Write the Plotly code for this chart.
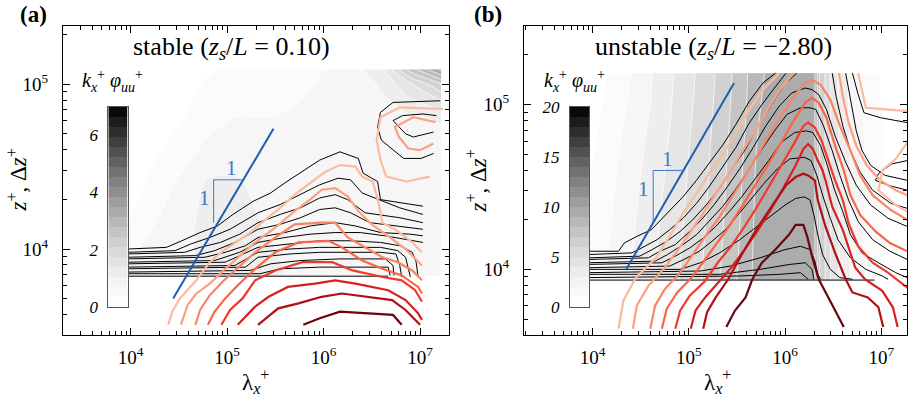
import numpy as np
import plotly.graph_objects as go

FONT = "Liberation Serif"

# ---------------- shared styles ----------------
red_colors = ['#fcbba1', '#fca083', '#fb8464', '#f96546', '#ee3a2c', '#d42121', '#ad1016', '#6d0510']
gray_scale = [[0.0, '#ffffff'], [0.1, '#f7f7f7'], [0.2, '#e8e8e8'], [0.3, '#d5d5d5'],
              [0.4, '#bebebe'], [0.5, '#a5a5a5'], [0.6, '#888888'], [0.7, '#6a6a6a'],
              [0.8, '#484848'], [0.9, '#252525'], [1.0, '#000000']]

# ---------------- panel (a): stable ----------------
a_bg_lx = [3.97, 4.2, 4.5, 4.8, 5.1, 5.4, 5.7, 6.0, 6.3, 6.6, 6.9, 7.22]
a_bg_ly = [3.836, 4.0, 4.2, 4.4, 4.6, 4.8, 5.0, 5.09]
a_bg_z = [
    [0.75, 0.8, 0.9, 1.1, 1.2, 1.15, 1.0, 0.9, 0.8, 0.8, 0.75, 0.7],
    [0.6, 0.8, 0.95, 1.15, 1.2, 1.1, 0.95, 0.85, 0.8, 0.8, 0.75, 0.7],
    [0.3, 0.6, 0.9, 1.15, 1.2, 1.0, 0.9, 0.8, 0.8, 0.85, 0.8, 0.75],
    [0.2, 0.4, 0.75, 1.1, 1.1, 0.9, 0.85, 0.8, 0.85, 0.9, 0.9, 0.85],
    [0.15, 0.25, 0.5, 0.8, 0.85, 0.8, 0.8, 0.8, 0.85, 0.9, 0.9, 0.9],
    [0.1, 0.15, 0.3, 0.55, 0.7, 0.7, 0.75, 0.8, 0.85, 0.9, 1.0, 1.1],
    [0.1, 0.1, 0.2, 0.4, 0.5, 0.55, 0.6, 0.75, 0.85, 1.1, 1.7, 2.4],
    [0.1, 0.1, 0.15, 0.3, 0.45, 0.5, 0.55, 0.7, 0.9, 1.3, 2.6, 3.6],
]
a_cmax = 7.0

a_black_lx = [
    [3.97, 4.37, 4.53, 4.72, 4.90, 5.06, 5.27, 5.45, 5.62, 5.78, 5.96, 6.17, 6.36, 6.41, 6.56, 6.59, 7.03],
    [3.97, 4.46, 4.62, 4.82, 5.03, 5.32, 5.55, 5.76, 5.96, 6.15, 6.28, 6.40, 6.57, 6.79, 7.03],
    [3.97, 4.56, 4.72, 4.93, 5.13, 5.32, 5.55, 5.76, 5.96, 6.12, 6.25, 6.43, 6.79, 7.03],
    [3.97, 4.67, 4.87, 5.08, 5.32, 5.55, 5.76, 5.96, 6.12, 6.28, 6.48, 6.79, 7.03],
    [3.97, 4.77, 4.98, 5.19, 5.32, 5.60, 5.86, 6.12, 6.33, 6.59, 6.90, 7.03],
    [3.97, 4.87, 5.13, 5.32, 5.60, 5.86, 6.12, 6.38, 6.64, 6.85, 7.03],
    [3.97, 4.98, 5.32, 5.65, 5.96, 6.28, 6.59, 6.79, 6.92, 6.96, 6.98],
    [3.97, 5.08, 5.32, 5.65, 5.96, 6.28, 6.59, 6.77, 6.85, 6.90],
    [3.97, 5.19, 5.32, 5.65, 5.96, 6.28, 6.59, 6.75, 6.79, 6.81],
    [3.97, 5.24, 5.45, 5.76, 6.17, 6.64, 6.72, 6.73],
    [3.97, 5.34, 5.55, 5.96, 6.38, 6.67, 6.69],
    [3.97, 6.67],
    [7.21, 6.72, 6.59, 6.56, 6.60, 6.72, 6.83, 7.01, 7.14],
    [7.17, 7.03, 6.82, 6.72, 6.85, 6.93, 7.14],
]
a_black_ly = [
    [4.00, 4.01, 4.05, 4.10, 4.14, 4.21, 4.29, 4.34, 4.41, 4.47, 4.54, 4.59, 4.55, 4.46, 4.41, 4.30, 4.26],
    [3.98, 3.99, 4.03, 4.07, 4.12, 4.22, 4.27, 4.33, 4.39, 4.43, 4.42, 4.34, 4.30, 4.25, 4.21],
    [3.97, 3.98, 4.01, 4.04, 4.09, 4.16, 4.21, 4.25, 4.31, 4.33, 4.30, 4.22, 4.19, 4.16],
    [3.95, 3.96, 3.99, 4.04, 4.12, 4.15, 4.19, 4.24, 4.25, 4.22, 4.16, 4.14, 4.12],
    [3.94, 3.95, 3.98, 4.02, 4.07, 4.10, 4.14, 4.16, 4.14, 4.10, 4.09, 4.08],
    [3.92, 3.93, 3.98, 4.04, 4.07, 4.09, 4.10, 4.10, 4.08, 4.06, 4.04],
    [3.91, 3.92, 4.01, 4.03, 4.05, 4.05, 4.04, 4.02, 3.98, 3.92, 3.83],
    [3.89, 3.90, 3.98, 4.00, 4.01, 4.01, 4.01, 3.99, 3.95, 3.83],
    [3.88, 3.89, 3.95, 3.97, 3.98, 3.98, 3.98, 3.97, 3.90, 3.83],
    [3.86, 3.87, 3.91, 3.93, 3.94, 3.94, 3.90, 3.84],
    [3.85, 3.85, 3.88, 3.89, 3.89, 3.89, 3.84],
    [3.835, 3.835],
    [4.90, 4.89, 4.83, 4.74, 4.66, 4.60, 4.55, 4.55, 4.58],
    [4.81, 4.82, 4.81, 4.78, 4.70, 4.68, 4.71],
]

a_red_lx = [
    [4.39, 4.43, 4.51, 4.68, 4.82, 4.96, 5.09, 5.24, 5.36, 5.55, 5.72, 5.86, 6.02, 6.17, 6.33, 6.40, 6.51, 6.57, 6.61, 6.74, 6.90, 7.02],
    [4.52, 4.59, 4.68, 4.82, 4.98, 5.13, 5.29, 5.50, 5.70, 5.86, 5.98, 6.12, 6.25, 6.36, 6.50, 6.69, 6.85, 7.02],
    [4.67, 4.72, 4.82, 4.95, 5.08, 5.19, 5.29, 5.50, 5.70, 5.98, 6.12, 6.25, 6.43, 6.61, 6.77, 6.92, 7.02],
    [4.80, 4.87, 4.98, 5.11, 5.29, 5.50, 5.74, 6.05, 6.19, 6.40, 6.61, 6.81, 6.98, 7.02],
    [4.94, 5.03, 5.16, 5.29, 5.50, 5.78, 6.09, 6.30, 6.61, 6.81, 6.95, 7.02],
    [5.11, 5.29, 5.43, 5.63, 5.91, 6.12, 6.33, 6.67, 6.85, 6.98, 7.02],
    [5.32, 5.53, 5.74, 5.98, 6.19, 6.46, 6.71, 6.85, 6.95, 7.00],
    [5.79, 5.96, 6.17, 6.45, 6.72, 6.81],
    [7.24, 6.79, 6.59, 6.55, 6.59, 6.65, 6.86, 7.10],
    [7.16, 6.93, 6.74, 6.78, 6.88, 7.00, 7.14],
]
a_red_ly = [
    [3.54, 3.62, 3.70, 3.81, 3.92, 3.99, 4.04, 4.10, 4.16, 4.25, 4.34, 4.40, 4.47, 4.51, 4.50, 4.44, 4.41, 4.28, 4.16, 4.12, 4.05, 3.98],
    [3.54, 3.66, 3.73, 3.79, 3.88, 3.96, 4.04, 4.13, 4.23, 4.30, 4.36, 4.37, 4.32, 4.23, 4.15, 4.07, 4.00, 3.90],
    [3.54, 3.63, 3.72, 3.80, 3.87, 3.93, 3.98, 4.07, 4.15, 4.16, 4.16, 4.07, 4.01, 3.95, 3.92, 3.87, 3.81],
    [3.54, 3.62, 3.70, 3.78, 3.88, 3.98, 4.04, 4.05, 4.01, 3.93, 3.88, 3.84, 3.77, 3.73],
    [3.54, 3.63, 3.70, 3.81, 3.87, 3.92, 3.92, 3.87, 3.83, 3.81, 3.75, 3.68],
    [3.54, 3.65, 3.71, 3.77, 3.79, 3.81, 3.79, 3.75, 3.69, 3.61, 3.57],
    [3.54, 3.64, 3.67, 3.71, 3.73, 3.71, 3.69, 3.63, 3.57, 3.54],
    [3.54, 3.58, 3.62, 3.61, 3.60, 3.54],
    [4.85, 4.86, 4.80, 4.66, 4.54, 4.44, 4.41, 4.44],
    [4.77, 4.80, 4.74, 4.68, 4.61, 4.60, 4.64],
]
a_red_col = red_colors + [red_colors[0], red_colors[1]]

a_slope_lx = [4.44, 5.48]
a_slope_ly = [3.70, 4.73]
a_tri_lx = [4.86, 4.86, 5.16]
a_tri_ly = [4.16, 4.42, 4.42]
a_one_pos = [(5.04, 4.49), (4.76, 4.31)]

# ---------------- panel (b): unstable ----------------
b_bg_lx = [3.96, 4.2, 4.4, 4.6, 4.8, 5.0, 5.2, 5.4, 5.6, 5.7, 6.0, 6.3, 6.36, 6.5, 6.7, 6.9, 7.08]
b_bg_ly = [3.935, 4.3, 4.7, 5.0, 5.19]
b_bg_z = [
    [1.5, 2.2, 3.0, 3.8, 4.6, 5.4, 6.3, 7.4, 8.6, 9.3, 9.5, 9.4, 7.0, 4.5, 2.8, 1.6, 0.8],
    [1.2, 2.0, 2.8, 3.6, 4.4, 5.2, 6.1, 7.2, 8.4, 9.2, 9.5, 9.4, 7.0, 4.5, 2.8, 1.6, 0.8],
    [0.8, 1.7, 2.5, 3.3, 4.1, 5.0, 5.9, 7.0, 8.2, 9.0, 9.5, 9.4, 7.0, 4.5, 2.8, 1.6, 0.8],
    [0.6, 1.3, 2.2, 3.0, 3.9, 4.8, 5.7, 6.8, 8.0, 8.9, 9.5, 9.4, 7.0, 4.5, 2.6, 1.4, 0.7],
    [0.5, 1.1, 2.0, 2.9, 3.8, 4.7, 5.6, 6.7, 7.9, 8.8, 9.5, 9.4, 7.0, 4.4, 2.5, 1.3, 0.6],
]
b_cmax = 20.0

b_black_lx = [
    [3.96, 4.27, 4.33, 4.46, 4.61, 4.77, 4.94, 5.08, 5.21, 5.36, 5.49, 5.63, 5.77, 5.90],
    [6.70, 6.76, 6.82, 6.99, 7.27],
    [3.96, 4.41, 4.51, 4.67, 4.80, 4.94, 5.08, 5.21, 5.35, 5.49, 5.62, 5.76, 5.89, 6.01],
    [6.63, 6.68, 6.74, 6.80, 6.89, 7.04, 7.27],
    [3.96, 4.49, 4.62, 4.77, 4.91, 5.04, 5.18, 5.32, 5.45, 5.59, 5.72, 5.86, 5.99, 6.12],
    [6.49, 6.53, 6.60, 6.68, 6.78, 6.91, 7.10, 7.27],
    [3.96, 4.58, 4.70, 4.86, 4.99, 5.13, 5.26, 5.40, 5.53, 5.67, 5.80, 5.94, 6.07, 6.21, 6.28, 6.35, 6.43, 6.52, 6.63, 6.74, 6.89, 7.07, 7.27],
    [3.96, 4.65, 4.78, 4.94, 5.08, 5.21, 5.35, 5.48, 5.62, 5.75, 5.89, 6.02, 6.16, 6.26, 6.32, 6.40, 6.49, 6.57, 6.66, 6.76, 6.91, 7.09, 7.27],
    [3.96, 4.72, 4.86, 5.01, 5.15, 5.28, 5.42, 5.55, 5.69, 5.83, 5.96, 6.10, 6.22, 6.29, 6.37, 6.44, 6.51, 6.60, 6.68, 6.80, 6.97, 7.15, 7.27],
    [3.96, 4.80, 4.95, 5.11, 5.24, 5.38, 5.51, 5.65, 5.78, 5.92, 6.05, 6.20, 6.27, 6.33, 6.39, 6.47, 6.55, 6.68, 6.84, 7.01, 7.07],
    [3.96, 4.91, 5.12, 5.32, 5.53, 5.71, 5.87, 6.00, 6.11, 6.20, 6.26, 6.30, 6.34, 6.39, 6.47, 6.57, 6.70],
    [3.96, 5.12, 5.43, 5.74, 6.00, 6.16, 6.26, 6.31, 6.34, 6.37],
    [3.96, 5.32, 5.74, 6.05, 6.21, 6.28, 6.30],
    [3.96, 5.53, 5.95, 6.16, 6.24],
    [3.96, 6.93],
    [7.27, 7.11, 6.97, 6.94, 7.07, 7.27],
]
b_black_ly = [
    [4.11, 4.11, 4.16, 4.20, 4.24, 4.34, 4.44, 4.54, 4.64, 4.76, 4.88, 5.02, 5.13, 5.19],
    [5.19, 5.06, 4.95, 4.92, 4.89],
    [4.09, 4.10, 4.13, 4.18, 4.24, 4.31, 4.40, 4.50, 4.62, 4.74, 4.88, 5.00, 5.10, 5.19],
    [5.19, 5.03, 4.84, 4.72, 4.63, 4.57, 4.54],
    [4.07, 4.08, 4.12, 4.17, 4.23, 4.30, 4.39, 4.49, 4.61, 4.73, 4.87, 5.00, 5.12, 5.19],
    [5.19, 5.05, 4.87, 4.72, 4.59, 4.48, 4.40, 4.37],
    [4.06, 4.07, 4.11, 4.15, 4.22, 4.30, 4.39, 4.50, 4.61, 4.74, 4.87, 4.99, 5.07, 5.10, 5.09, 5.06, 4.97, 4.81, 4.65, 4.51, 4.39, 4.31, 4.26],
    [4.04, 4.05, 4.09, 4.15, 4.21, 4.29, 4.38, 4.48, 4.60, 4.72, 4.84, 4.94, 4.98, 4.98, 4.97, 4.87, 4.72, 4.57, 4.42, 4.29, 4.18, 4.11, 4.06],
    [4.03, 4.04, 4.08, 4.13, 4.19, 4.26, 4.35, 4.44, 4.55, 4.66, 4.77, 4.83, 4.84, 4.83, 4.75, 4.63, 4.49, 4.35, 4.21, 4.10, 4.04, 3.98, 3.95],
    [4.01, 4.02, 4.06, 4.11, 4.17, 4.24, 4.33, 4.43, 4.52, 4.61, 4.67, 4.68, 4.66, 4.57, 4.45, 4.31, 4.18, 4.07, 4.00, 3.96, 3.94],
    [4.00, 4.00, 4.04, 4.10, 4.18, 4.26, 4.33, 4.39, 4.43, 4.44, 4.42, 4.33, 4.21, 4.09, 4.00, 3.95, 3.94],
    [3.98, 3.99, 4.02, 4.07, 4.12, 4.14, 4.12, 4.05, 3.97, 3.94],
    [3.97, 3.97, 4.00, 4.03, 4.04, 4.00, 3.94],
    [3.95, 3.96, 3.97, 3.98, 3.94],
    [3.935, 3.935],
    [4.66, 4.64, 4.58, 4.54, 4.51, 4.48],
]

b_red_lx = [
    [4.27, 4.32, 4.45, 4.66, 4.80, 4.94, 5.08, 5.21, 5.36, 5.49, 5.63, 5.77, 5.91, 5.94],
    [6.76, 6.84, 7.05, 7.27],
    [4.42, 4.46, 4.58, 4.75, 4.89, 5.01, 5.15, 5.28, 5.42, 5.55, 5.69, 5.83, 5.96, 6.09],
    [6.56, 6.60, 6.66, 6.74, 6.85, 6.99, 7.15, 7.27],
    [4.60, 4.65, 4.75, 4.91, 5.04, 5.17, 5.31, 5.44, 5.58, 5.71, 5.85, 5.98, 6.12, 6.21, 6.28, 6.37, 6.47, 6.57, 6.68, 6.78, 6.91, 7.10, 7.27],
    [4.72, 4.77, 4.88, 5.03, 5.17, 5.29, 5.43, 5.56, 5.70, 5.84, 5.97, 6.11, 6.21, 6.28, 6.35, 6.43, 6.52, 6.61, 6.68, 6.78, 6.94, 7.09, 7.27],
    [4.86, 4.91, 5.01, 5.17, 5.30, 5.44, 5.58, 5.71, 5.85, 5.98, 6.11, 6.19, 6.24, 6.31, 6.38, 6.45, 6.52, 6.60, 6.66, 6.76, 6.91, 7.07, 7.27],
    [5.02, 5.07, 5.17, 5.31, 5.44, 5.58, 5.71, 5.85, 5.98, 6.11, 6.19, 6.24, 6.29, 6.34, 6.39, 6.42, 6.49, 6.60, 6.66, 6.73, 6.83, 7.01, 7.12, 7.17],
    [5.15, 5.19, 5.28, 5.41, 5.54, 5.70, 5.87, 6.01, 6.11, 6.19, 6.24, 6.31, 6.34, 6.42, 6.52, 6.63, 6.70, 6.86, 6.97, 7.02],
    [5.39, 5.48, 5.59, 5.66, 5.76, 5.90, 6.04, 6.11, 6.19, 6.23, 6.28, 6.35, 6.45, 6.52, 6.61],
    [7.27, 7.15, 7.01, 6.97, 7.15, 7.27],
]
b_red_ly = [
    [3.64, 3.81, 3.95, 4.07, 4.20, 4.34, 4.46, 4.58, 4.70, 4.83, 4.97, 5.09, 5.17, 5.19],
    [5.19, 4.98, 4.97, 4.96],
    [3.64, 3.78, 3.90, 4.01, 4.12, 4.22, 4.34, 4.46, 4.58, 4.71, 4.84, 4.98, 5.10, 5.19],
    [5.19, 5.05, 4.89, 4.75, 4.63, 4.54, 4.48, 4.45],
    [3.64, 3.78, 3.88, 3.98, 4.09, 4.20, 4.31, 4.43, 4.56, 4.69, 4.83, 4.95, 5.07, 5.13, 5.15, 5.12, 5.03, 4.87, 4.72, 4.57, 4.45, 4.36, 4.30],
    [3.64, 3.76, 3.86, 3.95, 4.06, 4.16, 4.27, 4.39, 4.52, 4.65, 4.78, 4.92, 5.01, 5.04, 5.01, 4.92, 4.75, 4.60, 4.45, 4.33, 4.23, 4.16, 4.11],
    [3.64, 3.75, 3.84, 3.93, 4.04, 4.14, 4.26, 4.38, 4.52, 4.65, 4.78, 4.87, 4.89, 4.86, 4.78, 4.66, 4.54, 4.42, 4.28, 4.14, 4.04, 3.98, 3.89],
    [3.64, 3.75, 3.83, 3.92, 4.01, 4.12, 4.23, 4.36, 4.49, 4.63, 4.73, 4.76, 4.73, 4.66, 4.60, 4.54, 4.38, 4.24, 4.14, 4.01, 3.94, 3.87, 3.77, 3.65],
    [3.64, 3.74, 3.83, 3.94, 4.08, 4.24, 4.39, 4.51, 4.56, 4.58, 4.57, 4.54, 4.42, 4.26, 4.10, 3.94, 3.86, 3.83, 3.77, 3.65],
    [3.65, 3.75, 3.83, 3.94, 4.04, 4.12, 4.21, 4.27, 4.27, 4.20, 4.08, 3.94, 3.83, 3.75, 3.65],
    [4.77, 4.67, 4.60, 4.48, 4.39, 4.35],
]
b_red_col = [red_colors[0], red_colors[0], red_colors[1], red_colors[1]] + red_colors[2:] + [red_colors[0]]

b_slope_lx = [4.35, 5.47]
b_slope_ly = [4.00, 5.13]
b_tri_lx = [4.63, 4.63, 4.95]
b_tri_ly = [4.28, 4.60, 4.60]
b_one_pos = [(4.78, 4.67), (4.53, 4.49)]

# ---------------- figure ----------------
fig = go.Figure()
P = lambda v: np.power(10.0, np.asarray(v, dtype=float))


def panel(xa, ya, bg_lx, bg_ly, bg_z, cmax, blx, bly, rlx, rly, rcol, slx, sly, tlx, tly, ones):
    fig.add_trace(go.Contour(
        x=P(bg_lx), y=P(bg_ly), z=bg_z, xaxis=xa, yaxis=ya,
        colorscale=gray_scale, zmin=0, zmax=cmax, zauto=False,
        contours=dict(start=cmax / 20, end=cmax * 19 / 20, size=cmax / 20, coloring='fill', showlines=True),
        line=dict(color='white', width=0.7), showscale=False, hoverinfo='skip'))
    for xs, ys in zip(blx, bly):
        fig.add_trace(go.Scatter(x=P(xs), y=P(ys), mode='lines', xaxis=xa, yaxis=ya,
                                 line=dict(color='black', width=1), hoverinfo='skip'))
    for xs, ys, c in zip(rlx, rly, rcol):
        fig.add_trace(go.Scatter(x=P(xs), y=P(ys), mode='lines', xaxis=xa, yaxis=ya,
                                 line=dict(color=c, width=2.2), hoverinfo='skip'))
    fig.add_trace(go.Scatter(x=P(slx), y=P(sly), mode='lines', xaxis=xa, yaxis=ya,
                             line=dict(color='#1f5fae', width=2), hoverinfo='skip'))
    fig.add_trace(go.Scatter(x=P(tlx), y=P(tly), mode='lines', xaxis=xa, yaxis=ya,
                             line=dict(color='#3b78c4', width=1), hoverinfo='skip'))
    for (ox, oy) in ones:
        fig.add_annotation(x=ox, y=oy, xref=xa, yref=ya, text='1', showarrow=False,
                           xanchor='center', yanchor='middle',
                           font=dict(family=FONT, size=21, color='#3b78c4'))


panel('x', 'y', a_bg_lx, a_bg_ly, a_bg_z, a_cmax, a_black_lx, a_black_ly, a_red_lx, a_red_ly,
      a_red_col, a_slope_lx, a_slope_ly, a_tri_lx, a_tri_ly, a_one_pos)
panel('x2', 'y2', b_bg_lx, b_bg_ly, b_bg_z, b_cmax, b_black_lx, b_black_ly, b_red_lx, b_red_ly,
      b_red_col, b_slope_lx, b_slope_ly, b_tri_lx, b_tri_ly, b_one_pos)

# colour bars as small heatmaps
for xa, ya, cmax in (('x3', 'y3', a_cmax), ('x4', 'y4', b_cmax)):
    edges = np.linspace(0, cmax, 21)
    mids = (edges[:-1] + edges[1:]) / 2
    fig.add_trace(go.Heatmap(x=[0, 1], y=edges, z=[[m] for m in mids], xaxis=xa, yaxis=ya,
                             colorscale=gray_scale, zmin=0, zmax=cmax, showscale=False, hoverinfo='skip'))

minor_vals = [k * 10.0 ** e for e in range(3, 8) for k in range(2, 10)]
major_vals = [1e3, 1e4, 1e5, 1e6, 1e7]
major_text = ['10<sup>%d</sup>' % e for e in range(3, 8)]

axis_common = dict(type='log', showgrid=False, zeroline=False, showline=True, linecolor='black',
                   linewidth=1, mirror='allticks', ticks='inside', ticklen=7, tickcolor='black',
                   tickvals=major_vals, ticktext=major_text,
                   tickfont=dict(family=FONT, size=19, color='black'),
                   minor=dict(ticks='inside', ticklen=4, tickcolor='black', tickvals=minor_vals))

cb_font = dict(family=FONT, size=17, color='black', style='italic')
fig.update_layout(
    width=912, height=396, margin=dict(l=63, r=5, t=26, b=61),
    paper_bgcolor='white', plot_bgcolor='white', showlegend=False,
    xaxis=dict(domain=[0, 0.4573], range=[3.298, 7.30], anchor='y', ticklabelstandoff=5, **axis_common),
    yaxis=dict(domain=[0, 1], range=[3.478, 5.354], anchor='x', ticklabelstandoff=10, **axis_common),
    xaxis2=dict(domain=[0.5462, 1], range=[3.288, 7.267], anchor='y2', ticklabelstandoff=5, **axis_common),
    yaxis2=dict(domain=[0, 1], range=[3.602, 5.476], anchor='x2', ticklabelstandoff=10, **axis_common),
    xaxis3=dict(domain=[0.0537, 0.0767], range=[0, 1], anchor='y3', showticklabels=False, ticks='',
                showgrid=False, zeroline=False, showline=True, mirror=True, linecolor='#555'),
    yaxis3=dict(domain=[0.0916, 0.7388], range=[0, a_cmax], anchor='x3', tickvals=[0, 2, 4, 6],
                ticks='', showgrid=False, zeroline=False, showline=True, mirror=True, linecolor='#555',
                ticklabelstandoff=6, tickfont=cb_font),
    xaxis4=dict(domain=[0.6007, 0.6232], range=[0, 1], anchor='y4', showticklabels=False, ticks='',
                showgrid=False, zeroline=False, showline=True, mirror=True, linecolor='#555'),
    yaxis4=dict(domain=[0.0916, 0.7388], range=[0, b_cmax], anchor='x4', tickvals=[0, 5, 10, 15, 20],
                ticks='', showgrid=False, zeroline=False, showline=True, mirror=True, linecolor='#555',
                ticklabelstandoff=6, tickfont=cb_font),
)

tfont = dict(family=FONT, size=26, color='black')
lfont = dict(family=FONT, size=23, color='black')
cfont = dict(family=FONT, size=20, color='black')
cb_title = '<i>k</i><sub><i>x</i></sub><sup>+</sup> <i>\u03c6</i><sub><i>uu</i></sub><sup>+</sup>'
ann = [
    dict(x=-0.0344, y=1.036, text='<b>(a)</b>', font=dict(family=FONT, size=23, color='black')),
    dict(x=0.5036, y=1.036, text='<b>(b)</b>', font=dict(family=FONT, size=23, color='black')),
    dict(x=0.2002, y=0.929, text='stable (<i>z<sub>s</sub></i>/<i>L</i> = 0.10)', font=tfont),
    dict(x=0.7713, y=0.929, text='unstable (<i>z<sub>s</sub></i>/<i>L</i> = \u22122.80)', font=tfont),
    dict(x=0.0592, y=0.822, text=cb_title, font=cfont),
    dict(x=0.6058, y=0.822, text=cb_title, font=cfont),
    dict(x=0.2275, y=-0.150, text='\u03bb<sub><i>x</i></sub><sup>+</sup>', font=lfont),
    dict(x=0.7757, y=-0.150, text='\u03bb<sub><i>x</i></sub><sup>+</sup>', font=lfont),
    dict(x=-0.0545, y=0.50, text='<i>z</i><sup>+</sup>, \u0394<i>z</i><sup>+</sup>', font=lfont, textangle=-90),
    dict(x=0.4905, y=0.50, text='<i>z</i><sup>+</sup>, \u0394<i>z</i><sup>+</sup>', font=lfont, textangle=-90),
]
for a in ann:
    fig.add_annotation(xref='paper', yref='paper', showarrow=False, xanchor='center', yanchor='middle', **a)

fig.write_html("out.html", config={'displayModeBar': False},
               post_script="document.body.style.margin='0px';")
